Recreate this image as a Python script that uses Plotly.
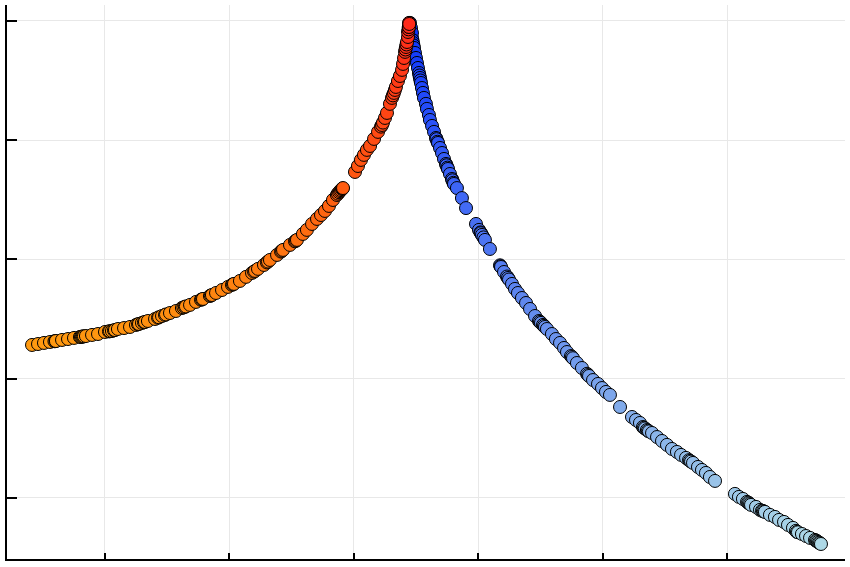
import plotly.graph_objects as go

# Left branch (orange -> red)
left_x = [0.414, 0.462, 0.510, 0.558, 0.606, 0.655, 0.703, 0.751, 0.799, 0.847, 0.896, 0.944,
          1.000, 1.056, 1.104, 1.153, 1.201, 1.249, 1.297, 1.345, 1.402, 1.458, 1.522, 1.570,
          1.618, 1.683, 1.731, 1.787, 1.843, 1.892, 1.940, 1.988, 2.036, 2.084, 2.133, 2.181,
          2.229, 2.277, 2.325, 2.382, 2.430, 2.486, 2.542, 2.590, 2.622, 2.663, 2.703, 2.735,
          2.767, 2.799, 2.831, 2.863, 2.888, 2.912, 3.008, 3.032, 3.056, 3.080, 3.104, 3.129,
          3.161, 3.193, 3.225, 3.249, 3.265, 3.289, 3.305, 3.321, 3.337, 3.353, 3.369, 3.386,
          3.394, 3.402, 3.410, 3.418, 3.426, 3.434, 3.434, 3.442, 3.442]
left_y = [2.283, 2.291, 2.300, 2.308, 2.316, 2.325, 2.333, 2.342, 2.350, 2.358, 2.367, 2.375,
          2.392, 2.400, 2.417, 2.425, 2.434, 2.451, 2.468, 2.484, 2.501, 2.526, 2.551, 2.568,
          2.593, 2.619, 2.644, 2.669, 2.694, 2.719, 2.744, 2.770, 2.795, 2.820, 2.854, 2.887,
          2.921, 2.954, 2.996, 3.038, 3.080, 3.122, 3.164, 3.214, 3.248, 3.298, 3.340, 3.373,
          3.407, 3.449, 3.499, 3.541, 3.574, 3.599, 3.734, 3.784, 3.835, 3.877, 3.919, 3.952,
          4.011, 4.070, 4.128, 4.187, 4.229, 4.305, 4.355, 4.397, 4.447, 4.497, 4.539, 4.590,
          4.640, 4.690, 4.741, 4.782, 4.824, 4.866, 4.908, 4.950, 4.984]

# Extra points in the dense (dark) clusters of the left branch
left_x_dense = [0.594, 0.602, 0.807, 0.815, 0.823, 0.831, 1.032, 1.040, 1.072, 1.080,
                1.265, 1.273, 1.313, 1.321, 1.426, 1.434, 1.482, 1.490, 1.630, 1.642,
                1.650, 1.771, 1.779, 1.851, 1.859, 2.020, 2.028, 2.197, 2.205, 2.301,
                2.309, 2.414, 2.422, 2.526, 2.534, 2.871, 2.880, 2.896, 2.904, 2.908,
                3.217, 3.233, 3.313, 3.329, 3.414, 3.422, 3.438, 3.440, 3.444]
left_y_dense = [2.314, 2.315, 2.351, 2.353, 2.354, 2.355, 2.397, 2.398, 2.406, 2.408,
                2.457, 2.459, 2.473, 2.476, 2.512, 2.515, 2.535, 2.539, 2.598, 2.603,
                2.606, 2.662, 2.665, 2.698, 2.702, 2.787, 2.791, 2.898, 2.904, 2.975,
                2.982, 3.066, 3.073, 3.152, 3.158, 3.552, 3.564, 3.582, 3.591, 3.595,
                4.114, 4.148, 4.376, 4.422, 4.761, 4.803, 4.930, 4.950, 4.975]

# Right branch (blue -> light blue)
right_x = [3.450, 3.458, 3.466, 3.466, 3.474, 3.482, 3.490, 3.498, 3.506, 3.514, 3.522, 3.530,
           3.538, 3.546, 3.554, 3.562, 3.578, 3.586, 3.602, 3.610, 3.627, 3.643, 3.659, 3.675,
           3.691, 3.707, 3.723, 3.739, 3.755, 3.771, 3.787, 3.803, 3.827, 3.867, 3.900, 3.980,
           4.004, 4.028, 4.052, 4.092, 4.181, 4.205, 4.237, 4.269, 4.293, 4.317, 4.349, 4.382,
           4.414, 4.454, 4.486, 4.518, 4.550, 4.590, 4.622, 4.655, 4.687, 4.711, 4.751, 4.791,
           4.831, 4.880, 4.920, 4.960, 4.992, 5.024, 5.056, 5.137, 5.233, 5.265, 5.297, 5.321,
           5.353, 5.394, 5.434, 5.474, 5.514, 5.554, 5.594, 5.627, 5.667, 5.699, 5.723, 5.763,
           5.795, 5.827, 5.859, 5.900, 6.060, 6.092, 6.124, 6.157, 6.189, 6.229, 6.261, 6.301,
           6.341, 6.381, 6.414, 6.454, 6.486, 6.526, 6.558, 6.598, 6.631, 6.663, 6.703, 6.727,
           6.751]
right_y = [4.984, 4.942, 4.900, 4.858, 4.816, 4.774, 4.732, 4.690, 4.648, 4.606, 4.564, 4.522,
           4.480, 4.438, 4.397, 4.355, 4.305, 4.263, 4.212, 4.170, 4.120, 4.070, 4.019, 3.977,
           3.935, 3.893, 3.843, 3.801, 3.759, 3.717, 3.675, 3.633, 3.599, 3.515, 3.431, 3.298,
           3.248, 3.206, 3.164, 3.088, 2.937, 2.895, 2.845, 2.795, 2.753, 2.719, 2.677, 2.635,
           2.585, 2.526, 2.484, 2.451, 2.417, 2.375, 2.333, 2.300, 2.258, 2.224, 2.182, 2.132,
           2.090, 2.031, 1.989, 1.956, 1.922, 1.889, 1.864, 1.763, 1.679, 1.654, 1.629, 1.595,
           1.570, 1.545, 1.511, 1.478, 1.445, 1.411, 1.386, 1.361, 1.336, 1.311, 1.294, 1.260,
           1.235, 1.210, 1.176, 1.143, 1.034, 1.009, 0.992, 0.967, 0.942, 0.925, 0.900, 0.883,
           0.858, 0.841, 0.816, 0.799, 0.774, 0.749, 0.715, 0.698, 0.681, 0.665, 0.648, 0.631,
           0.614]

# Extra points in the dense (dark) clusters of the right branch
right_x_dense = [3.470, 3.478, 3.526, 3.534, 3.663, 3.671, 3.743, 3.751, 3.791, 3.799,
                 4.016, 4.020, 4.040, 4.173, 4.177, 4.229, 4.245, 4.494, 4.502, 4.526,
                 4.534, 4.743, 4.759, 4.872, 4.888, 5.329, 5.337, 5.361, 5.369, 5.691,
                 5.707, 6.165, 6.173, 6.181, 6.277, 6.285, 6.293, 6.550, 6.566, 6.711,
                 6.719, 6.735, 6.743]
right_y_dense = [4.840, 4.795, 4.543, 4.501, 4.009, 3.987, 3.790, 3.770, 3.664, 3.643,
                 3.227, 3.220, 3.185, 2.951, 2.944, 2.857, 2.832, 2.476, 2.468, 2.443,
                 2.434, 2.190, 2.172, 2.041, 2.023, 1.589, 1.583, 1.564, 1.558, 1.317,
                 1.305, 0.961, 0.955, 0.948, 0.893, 0.890, 0.886, 0.724, 0.712, 0.642,
                 0.637, 0.625, 0.620]


def merged(xs, ys, xs2, ys2):
    pts = sorted(zip(xs + xs2, ys + ys2))
    return [p[0] for p in pts], [p[1] for p in pts]


lx, ly = merged(left_x, left_y, left_x_dense, left_y_dense)
rx, ry = merged(right_x, right_y, right_x_dense, right_y_dense)

fig = go.Figure()

fig.add_trace(go.Scatter(
    x=rx, y=ry, mode="markers",
    marker=dict(size=13, color=ry,
                colorscale=[[0, "#ADD8E6"], [0.5, "#5A82F0"], [1, "#0A32FF"]],
                line=dict(color="black", width=1), showscale=False),
    showlegend=False, hoverinfo="x+y"))

fig.add_trace(go.Scatter(
    x=lx, y=ly, mode="markers",
    marker=dict(size=13, color=ly,
                colorscale=[[0, "#FF9A10"], [0.5, "#FF5A10"], [1, "#FF2A1A"]],
                line=dict(color="black", width=1), showscale=False),
    showlegend=False, hoverinfo="x+y"))

axis_common = dict(
    showticklabels=False, showgrid=True, gridcolor="#e8e8e8", gridwidth=1,
    zeroline=False, showline=True, linecolor="black", linewidth=2,
    ticks="inside", tickcolor="black", tickwidth=1.5, dtick=1, tick0=0,
)

fig.update_xaxes(range=[0.213, 6.944], ticklen=6, mirror=False, **axis_common)
fig.update_yaxes(range=[0.488, 5.134], ticklen=10, mirror=False, **axis_common)

fig.update_layout(
    width=850, height=567,
    margin=dict(l=7, r=5, t=5, b=8),
    plot_bgcolor="white", paper_bgcolor="white",
)

fig.write_html("out.html",
               config={"displayModeBar": False},
               post_script="document.body.style.margin='0';document.body.style.overflow='hidden';")
